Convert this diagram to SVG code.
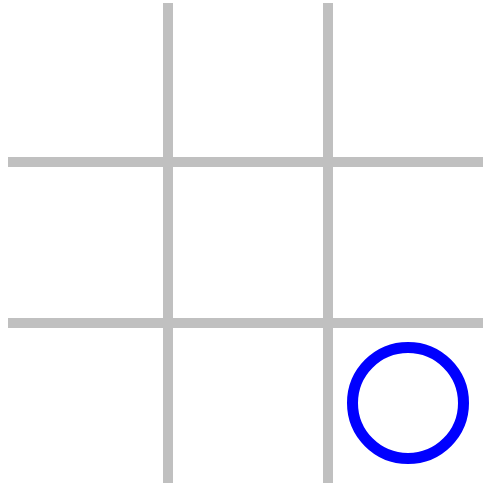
<svg xmlns="http://www.w3.org/2000/svg" width="483" height="486" viewBox="0 0 483 486">
<style>
.grid{stroke:#c0c0c0;stroke-width:10;fill:none}
.o{stroke:#0000ff;stroke-width:11;fill:none}
</style>
<rect width="483" height="486" fill="#ffffff"/>
<g id="connectors">
<line class="grid" x1="168" y1="3" x2="168" y2="483"/>
<line class="grid" x1="328" y1="3" x2="328" y2="483"/>
<line class="grid" x1="8" y1="162" x2="483" y2="162"/>
<line class="grid" x1="8" y1="323" x2="483" y2="323"/>
</g>
<g id="o-mark">
<circle class="o" cx="408" cy="403" r="55.5"/>
</g>
</svg>
